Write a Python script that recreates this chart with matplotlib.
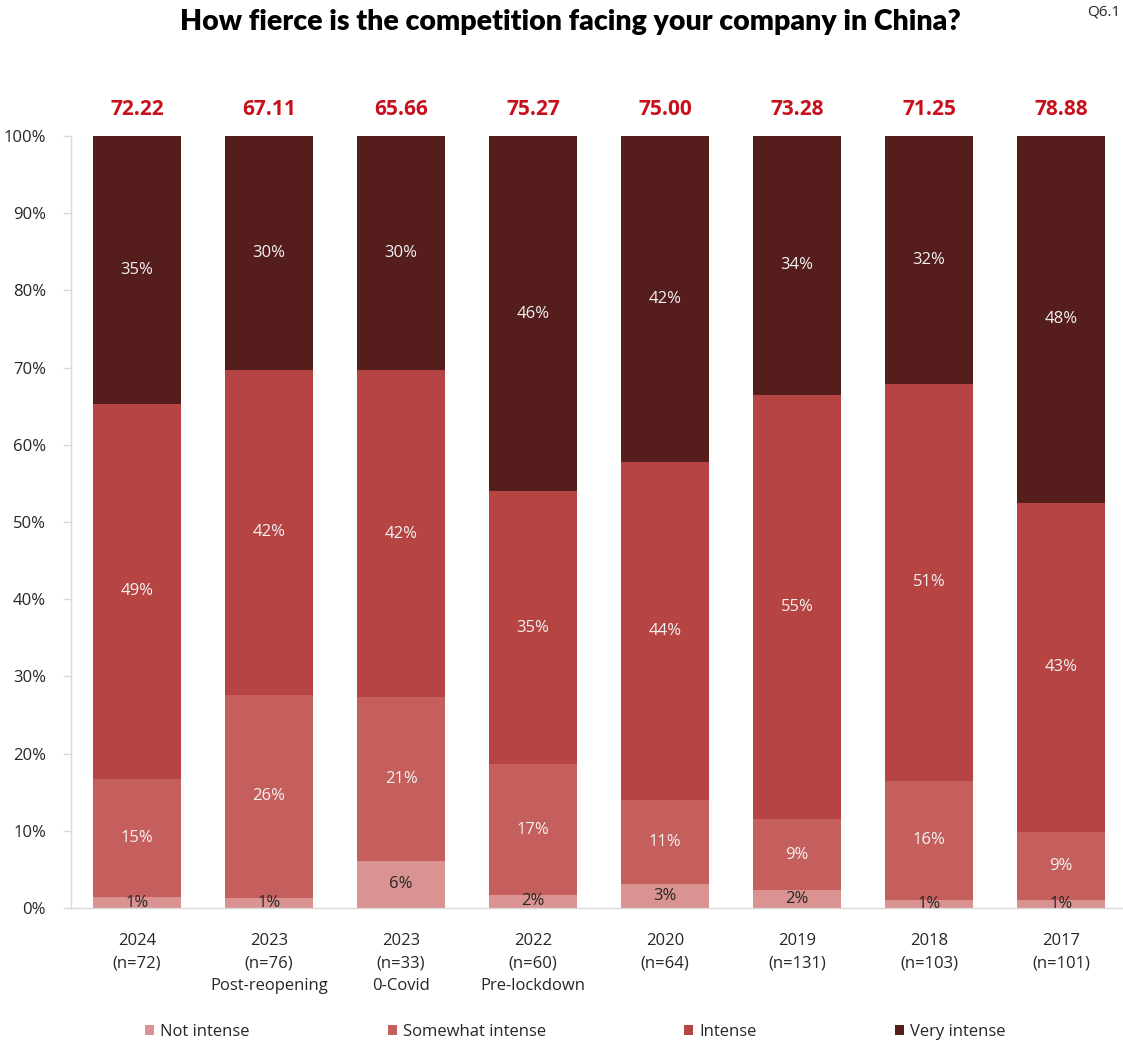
import matplotlib
matplotlib.use("Agg")
import matplotlib.pyplot as plt
import numpy as np

# Survey waves (tick labels) and sample sizes
years = ["2024", "2023", "2023", "2022", "2020", "2019", "2018", "2017"]
samples = ["(n=72)", "(n=76)", "(n=33)", "(n=60)", "(n=64)", "(n=131)", "(n=103)", "(n=101)"]
notes = ["", "Post-reopening", "0-Covid", "Pre-lockdown", "", "", "", ""]

# Share of respondents per answer (%)
not_intense = [1.4, 1.3, 6.1, 1.7, 3.1, 2.3, 1.0, 1.0]
somewhat_intense = [15.3, 26.3, 21.2, 16.9, 10.9, 9.2, 15.5, 8.9]
intense = [48.6, 42.1, 42.4, 35.4, 43.8, 55.0, 51.4, 42.6]
very_intense = [34.7, 30.3, 30.3, 46.0, 42.2, 33.5, 32.1, 47.5]

# Competition index per wave
scores = ["72.22", "67.11", "65.66", "75.27", "75.00", "73.28", "71.25", "78.88"]

series_names = ["Not intense", "Somewhat intense", "Intense", "Very intense"]
colors = ["#da9391", "#c55f5d", "#b54442", "#561d1d"]
label_colors = ["#262626", "#f2f2f2", "#f2f2f2", "#f2f2f2"]

plt.rcParams["font.family"] = ["Open Sans", "DejaVu Sans"]

W, H = 1123, 1046
fig = plt.figure(figsize=(W / 100, H / 100), dpi=100)
ax = fig.add_axes([71 / W, (H - 908) / H, 1056 / W, 772 / H])

x = np.arange(len(years))
bottom = np.zeros(len(years))
for vals, col, lc, name in zip([not_intense, somewhat_intense, intense, very_intense],
                               colors, label_colors, series_names):
    vals = np.array(vals)
    ax.bar(x, vals, width=0.667, bottom=bottom, color=col, label=name, zorder=2)
    for xi, b, v in zip(x, bottom, vals):
        ax.text(xi, b + v / 2, f"{v:.0f}%", ha="center", va="center",
                fontsize=12, color=lc, zorder=3)
    bottom += vals

# Index values above each bar
for xi, s in zip(x, scores):
    ax.text(xi, 103.4, s, ha="center", va="center", fontsize=15,
            fontweight="bold", color="#c8101c", clip_on=False)

ax.set_xlim(-0.5, 7.5)
ax.set_ylim(0, 100)
ax.set_yticks(np.arange(0, 101, 10))
ax.set_yticklabels([f"{t}%" for t in range(0, 101, 10)], fontsize=12, color="#262626")
ax.set_xticks(x)
ax.set_xticklabels([])
ax.tick_params(axis="y", length=6, width=1, color="#d9d9d9", pad=12)
ax.tick_params(axis="x", length=0)
for side in ["top", "right"]:
    ax.spines[side].set_visible(False)
for side in ["left", "bottom"]:
    ax.spines[side].set_color("#d9d9d9")
    ax.spines[side].set_linewidth(1)

# Multi-line category labels
for xi, yr, n, note in zip(x, years, samples, notes):
    txt = "\n".join([t for t in (yr, n, note) if t])
    ax.text(xi, -3.2, txt, ha="center", va="top", fontsize=12,
            color="#262626", linespacing=1.55, transform=ax.transData,
            clip_on=False)

fig.text(570 / W, 1 - 22 / H, "How fierce is the competition facing your company in China?",
         ha="center", va="center", fontsize=20.5, fontweight="heavy",
         family=["Lato", "DejaVu Sans"], color="black")
fig.text(1120 / W, 1 - 12 / H, "Q6.1", ha="right", va="center", fontsize=11,
         color="#262626")

fig.legend(loc="center", bbox_to_anchor=(575 / W, 1 - 1032 / H), ncol=4,
           frameon=False, fontsize=12, handlelength=0.55, handleheight=0.55,
           handletextpad=0.35, columnspacing=8.3, labelcolor="#262626")

fig.savefig("out.png", dpi=100)
